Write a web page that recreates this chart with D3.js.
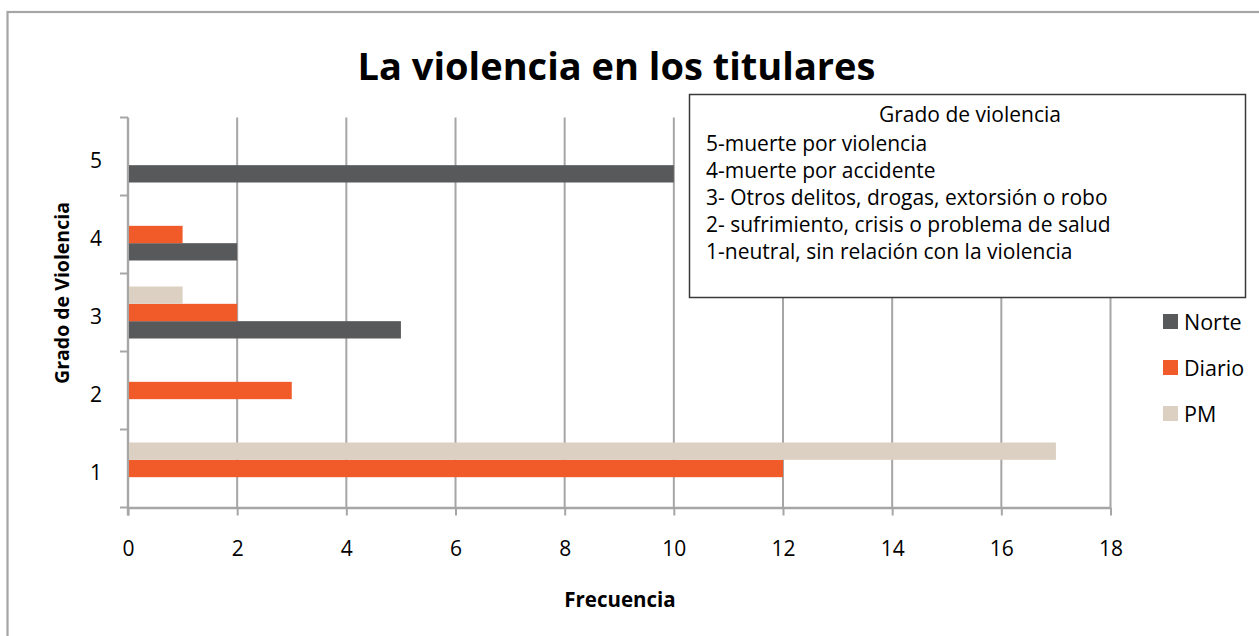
<!DOCTYPE html>
<html>
<head>
<meta charset="utf-8">
<script src="https://cdn.jsdelivr.net/npm/d3@7"></script>
<style>
  html, body { margin: 0; padding: 0; background: #fff; }
  svg { display: block; }
  text { font-family: "Open Sans", sans-serif; fill: #000; }
</style>
</head>
<body>
<svg id="chart" width="1259" height="636"></svg>
<script>
// ---- data ----
const categories = ["1", "2", "3", "4", "5"];
const seriesNames = ["Norte", "Diario", "PM"];
const norte  = [0, 0, 5, 2, 10];
const diario = [12, 3, 2, 1, 0];
const pm     = [17, 0, 1, 0, 0];
const xTicks = [0, 2, 4, 6, 8, 10, 12, 14, 16, 18];
const colors = ["#58595b", "#f15a29", "#dcd0c2"];
const titleText = "La violencia en los titulares";
const xTitle = "Frecuencia";
const yTitle = "Grado de Violencia";
const noteTitle = "Grado de violencia";
const noteLines = [
  "5-muerte por violencia",
  "4-muerte por accidente",
  "3- Otros delitos, drogas, extorsión o robo",
  "2- sufrimiento, crisis o problema de salud",
  "1-neutral, sin relación con la violencia"
];

(function () {
const seriesValues = [norte, diario, pm];
const rows = categories.map((c, i) => ({
  cat: c,
  vals: seriesNames.map((s, j) => ({ name: s, value: seriesValues[j][i], color: colors[j] }))
}));

const svg = d3.select("#chart");
const grid = "#a6a6a6";

// outer frame
svg.append("rect").attr("x", 7.5).attr("y", 12).attr("width", 1400).attr("height", 800)
  .attr("fill", "none").attr("stroke", grid).attr("stroke-width", 2.2);

const pLeft = 128, pRight = 1110.5, pTop = 117.5, pBottom = 507.5;

const x = d3.scaleLinear().domain([0, 18]).range([pLeft, pRight]);
const y = d3.scaleBand().domain(categories.slice().reverse()).range([pTop, pBottom]).padding(0);
const bw = y.bandwidth();
const inner = d3.scaleBand().domain(["PM", "Diario", "Norte"]).range([bw / 6, bw * 5 / 6]).padding(0);

// vertical gridlines
svg.append("g").selectAll("line").data(xTicks.filter(d => d > 0)).join("line")
  .attr("x1", d => x(d)).attr("x2", d => x(d))
  .attr("y1", pTop).attr("y2", pBottom)
  .attr("stroke", grid).attr("stroke-width", 2);

// x axis
const xAxis = svg.append("g").attr("transform", `translate(0,${pBottom})`)
  .call(d3.axisBottom(x).tickValues(xTicks).tickSize(8).tickPadding(26).tickSizeOuter(0));
xAxis.select(".domain").attr("stroke", grid).attr("stroke-width", 2.4);
xAxis.selectAll(".tick line").attr("stroke", grid).attr("stroke-width", 2);
xAxis.selectAll(".tick text").attr("font-size", 21).attr("font-family", "Open Sans").attr("fill", "#000");

// y axis (ticks at band boundaries)
const bounds = d3.range(categories.length + 1).map(i => pTop + i * bw);
svg.append("line").attr("x1", pLeft).attr("x2", pLeft).attr("y1", pTop).attr("y2", pBottom + 8)
  .attr("stroke", grid).attr("stroke-width", 2.4);
svg.append("g").selectAll("line").data(bounds).join("line")
  .attr("x1", pLeft - 8).attr("x2", pLeft).attr("y1", d => d).attr("y2", d => d)
  .attr("stroke", grid).attr("stroke-width", 2);
svg.append("g").selectAll("text").data(categories).join("text")
  .attr("x", 96).attr("y", d => y(d) + bw / 2 + 11.5)
  .attr("text-anchor", "middle").attr("font-size", 21).text(d => d);

// bars
const g = svg.append("g").selectAll("g").data(rows).join("g")
  .attr("transform", d => `translate(0,${y(d.cat)})`);
g.selectAll("rect").data(d => d.vals.filter(v => v.value > 0)).join("rect")
  .attr("x", pLeft + 1).attr("y", v => inner(v.name))
  .attr("width", v => x(v.value) - pLeft - 1).attr("height", inner.bandwidth())
  .attr("fill", v => v.color);

// title
svg.append("text").attr("x", 616.5).attr("y", 80).attr("text-anchor", "middle")
  .attr("font-size", 38).attr("font-weight", "bold").text(titleText);

// axis titles
svg.append("text").attr("x", 620).attr("y", 607).attr("text-anchor", "middle")
  .attr("font-size", 20.5).attr("font-weight", "bold").text(xTitle);
svg.append("text").attr("transform", "translate(69,293) rotate(-90)").attr("text-anchor", "middle")
  .attr("font-size", 19.5).attr("font-weight", "bold").text(yTitle);

// note box
svg.append("rect").attr("x", 689.5).attr("y", 94.5).attr("width", 556).attr("height", 203)
  .attr("fill", "#fff").attr("stroke", "#3a3a3a").attr("stroke-width", 1.5);
svg.append("text").attr("x", 970).attr("y", 122).attr("text-anchor", "middle")
  .attr("font-size", 21).text(noteTitle);
svg.append("g").selectAll("text").data(noteLines).join("text")
  .attr("x", 706).attr("y", (d, i) => 151 + i * 27.1)
  .attr("font-size", 21).text(d => d);

// legend
const leg = svg.append("g").selectAll("g").data(seriesNames).join("g")
  .attr("transform", (d, i) => `translate(1163,${314 + i * 46})`);
leg.append("rect").attr("width", 15).attr("height", 15).attr("fill", (d, i) => colors[i]);
leg.append("text").attr("x", 21).attr("y", 16).attr("font-size", 21.5).text(d => d);
})();
</script>
</body>
</html>
